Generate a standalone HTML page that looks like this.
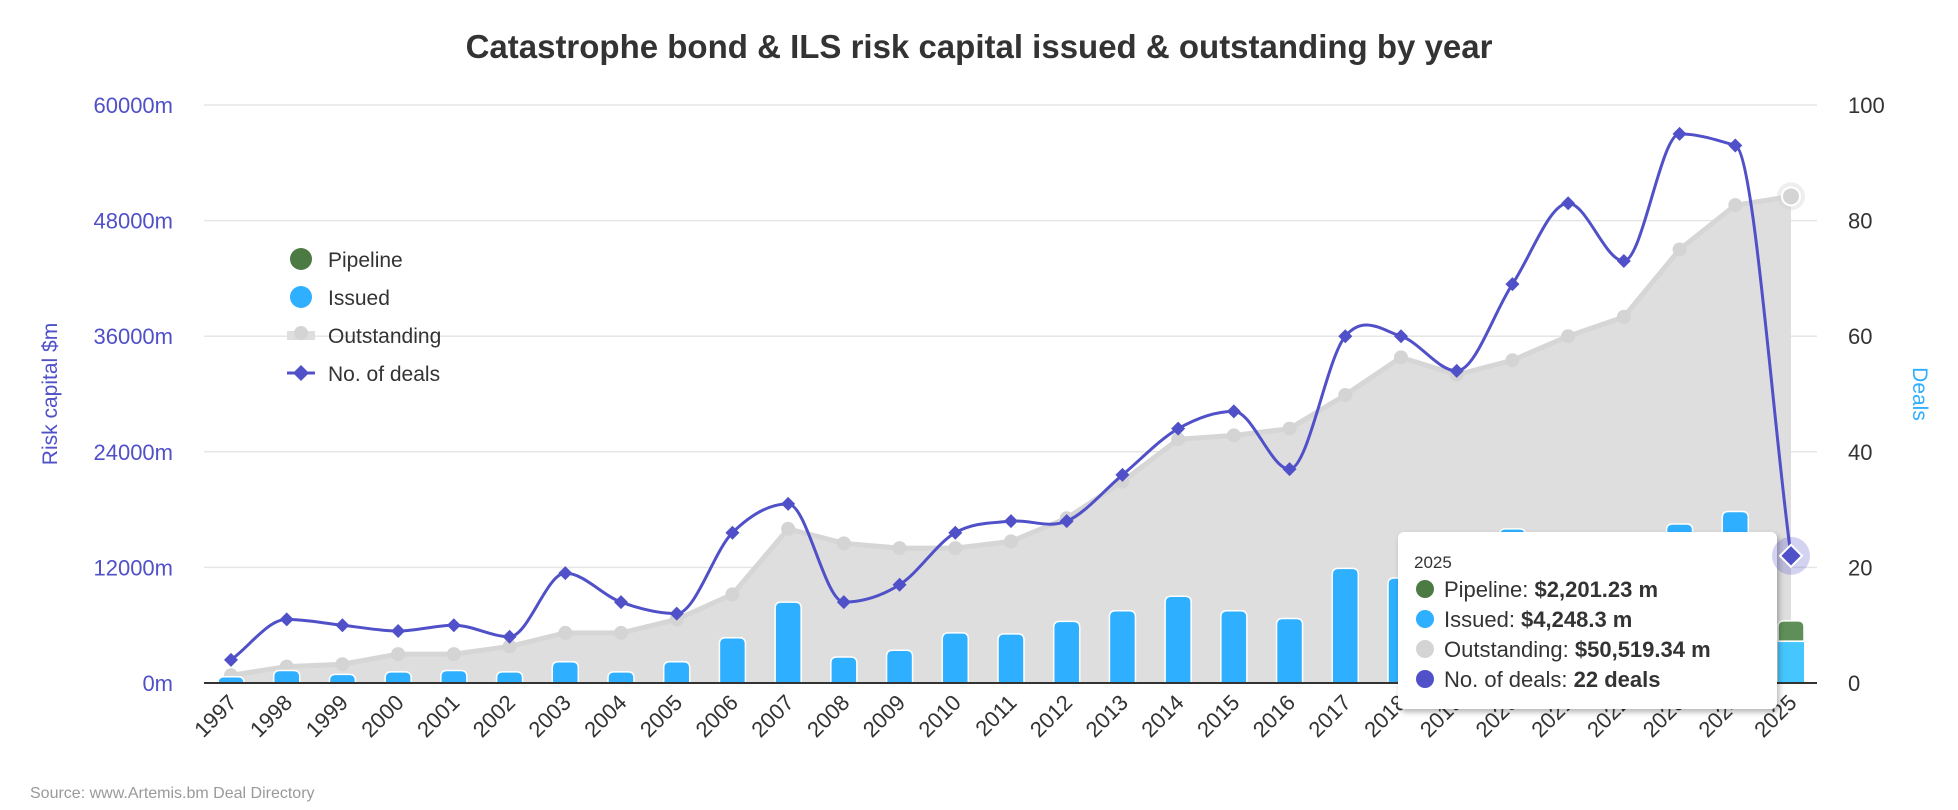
<!DOCTYPE html>
<html><head><meta charset="utf-8">
<style>
html,body{margin:0;padding:0;background:#fff;}
svg{display:block;font-family:"Liberation Sans",sans-serif;}
</style></head>
<body>
<svg id="c" width="1958" height="810" xmlns="http://www.w3.org/2000/svg"></svg>
<script>
const S=document.getElementById('c');
const years=[];for(let y=1997;y<=2025;y++)years.push(y);
const deals=[4,11,10,9,10,8,19,14,12,26,31,14,17,26,28,28,36,44,47,37,60,60,54,69,83,73,95,93,22];
const outst=[800,1700,1950,3000,3000,3800,5200,5200,6600,9200,16000,14500,14000,14000,14700,17100,20900,25300,25700,26400,29900,33800,32000,33500,36000,38000,45000,49600,50519];
const issued=[650,1300,900,1150,1300,1150,2200,1150,2200,4700,8400,2700,3400,5200,5100,6400,7500,9000,7500,6700,11900,10900,11000,16000,14000,15000,16500,17800,4248];
const X=i=>231+i*55.714;
const Y=v=>683-v/60000*578;
const YD=v=>683-v/100*578;
let h='';
h+='<text x="979" y="58" text-anchor="middle" font-size="33" font-weight="bold" fill="#333">Catastrophe bond &amp; ILS risk capital issued &amp; outstanding by year</text>';
for(let k=1;k<=5;k++){const y=Y(k*12000);h+=`<line x1="204" x2="1817" y1="${y}" y2="${y}" stroke="#e6e6e6" stroke-width="1.5"/>`;}
for(let k=0;k<=5;k++){const y=Y(k*12000);
h+=`<text x="173" y="${y+8}" text-anchor="end" font-size="22" fill="#5050c8">${k*12000}m</text>`;
h+=`<text x="1848" y="${y+8}" font-size="22" fill="#333">${k*20}</text>`;}
h+='<text transform="translate(57,394) rotate(-90)" text-anchor="middle" font-size="21" fill="#5050c8">Risk capital $m</text>';
h+='<text transform="translate(1913,394) rotate(90)" text-anchor="middle" font-size="21" fill="#2eaeff">Deals</text>';
let ap='M'+X(0)+','+Y(0);outst.forEach((v,i)=>ap+=' L'+X(i)+','+Y(v));ap+=' L'+X(28)+','+Y(0)+'Z';
h+=`<path d="${ap}" fill="#dedede"/>`;
let lp='';outst.forEach((v,i)=>lp+=(i?' L':'M')+X(i)+','+Y(v));
h+=`<path d="${lp}" fill="none" stroke="#d6d6d6" stroke-width="5"/>`;
outst.forEach((v,i)=>{if(i<28)h+=`<circle cx="${X(i)}" cy="${Y(v)}" r="7" fill="#d4d4d4"/>`;});
h+=`<circle cx="${X(28)}" cy="${Y(50519)}" r="14" fill="#d4d4d4" opacity="0.4"/><circle cx="${X(28)}" cy="${Y(50519)}" r="9" fill="#d4d4d4" stroke="#fff" stroke-width="2"/>`;
function rbar(x,w,y1,y2,fill){const r=Math.min(6,(y2-y1));return `<path d="M${x},${y2} L${x},${y1+r} Q${x},${y1} ${x+r},${y1} L${x+w-r},${y1} Q${x+w},${y1} ${x+w},${y1+r} L${x+w},${y2} Z" fill="${fill}" stroke="#fff" stroke-width="1.5"/>`;}
issued.forEach((v,i)=>{if(i<28)h+=rbar(X(i)-13,26,Y(v),683,'#2eafff');});
h+=`<rect x="${X(28)-13}" y="${Y(4248)}" width="26" height="${683-Y(4248)}" fill="#45c6ff"/>`;
h+=rbar(X(28)-13,26,Y(4248+2201),Y(4248)-1,'#5f8f59');
h+='<line x1="204" x2="1817" y1="683" y2="683" stroke="#333" stroke-width="2"/>';
const P=deals.map((d,i)=>[X(i),YD(d)]);
const tg=P.map((p,i)=>{const a=P[i-1]||p,b=P[i+1]||p;
 if(P[i-1]&&P[i+1]&&((p[1]-a[1])*(p[1]-b[1])>0))return 0;
 return (b[1]-a[1])/((b[0]-a[0])||1);});
tg[27]=0.3;
let dp='M'+P[0][0]+','+P[0][1];
for(let i=0;i<P.length-1;i++){const p1=P[i],p2=P[i+1];const dx=(p2[0]-p1[0])/3;
dp+=` C${p1[0]+dx},${p1[1]+tg[i]*dx} ${p2[0]-dx},${p2[1]-tg[i+1]*dx} ${p2[0]},${p2[1]}`;}
h+=`<path d="${dp}" fill="none" stroke="#5050c8" stroke-width="3"/>`;
P.forEach((p,i)=>{if(i<28)h+=`<path d="M${p[0]},${p[1]-7} L${p[0]+7},${p[1]} L${p[0]},${p[1]+7} L${p[0]-7},${p[1]}Z" fill="#5050c8"/>`;});
years.forEach((y,i)=>{h+=`<text transform="translate(${X(i)+7},${704}) rotate(-45)" text-anchor="end" font-size="22" fill="#333">${y}</text>`;});
h+='<text x="30" y="798" font-size="16" fill="#999">Source: www.Artemis.bm Deal Directory</text>';
const L=[['Pipeline','#4b7a43'],['Issued','#2eafff'],['Outstanding','#d4d4d4'],['No. of deals','#5050c8']];
L.forEach((l,k)=>{const y=259+k*38;
if(k<2)h+=`<circle cx="301" cy="${y}" r="11" fill="${l[1]}"/>`;
else if(k==2)h+=`<rect x="287" y="${y-4}" width="28" height="9" fill="#dedede"/><circle cx="301" cy="${y-2}" r="7" fill="#d4d4d4"/>`;
else h+=`<line x1="287" x2="315" y1="${y}" y2="${y}" stroke="#5050c8" stroke-width="3"/><path d="M301,${y-8} L309,${y} L301,${y+8} L293,${y}Z" fill="#5050c8"/>`;
h+=`<text x="328" y="${y+8}" font-size="21" fill="#333">${l[0]}</text>`;});
h+='<defs><filter id="sh" x="-10%" y="-10%" width="130%" height="130%"><feDropShadow dx="2" dy="3" stdDeviation="3" flood-color="#000" flood-opacity="0.3"/></filter></defs>';
h+='<rect x="1398" y="532" width="379" height="177" rx="6" fill="#fff" filter="url(#sh)"/>';
h+='<text x="1414" y="568" font-size="17" fill="#333">2025</text>';
const T=[['#4b7a43','Pipeline: ','$2,201.23 m'],['#2eafff','Issued: ','$4,248.3 m'],['#d4d4d4','Outstanding: ','$50,519.34 m'],['#5050c8','No. of deals: ','22 deals']];
T.forEach((t,k)=>{const y=589+k*30;h+=`<circle cx="1425" cy="${y}" r="9" fill="${t[0]}"/><text x="1444" y="${y+8}" font-size="22" fill="#333">${t[1]}<tspan font-weight="bold">${t[2]}</tspan></text>`;});
const pz=P[28];
h+=`<circle cx="${pz[0]}" cy="${pz[1]}" r="19" fill="#5050c8" opacity="0.25"/>`;
h+=`<path d="M${pz[0]},${pz[1]-11} L${pz[0]+11},${pz[1]} L${pz[0]},${pz[1]+11} L${pz[0]-11},${pz[1]}Z" fill="#5050c8" stroke="#fff" stroke-width="2"/>`;
S.innerHTML=h;
</script>
</body></html>
